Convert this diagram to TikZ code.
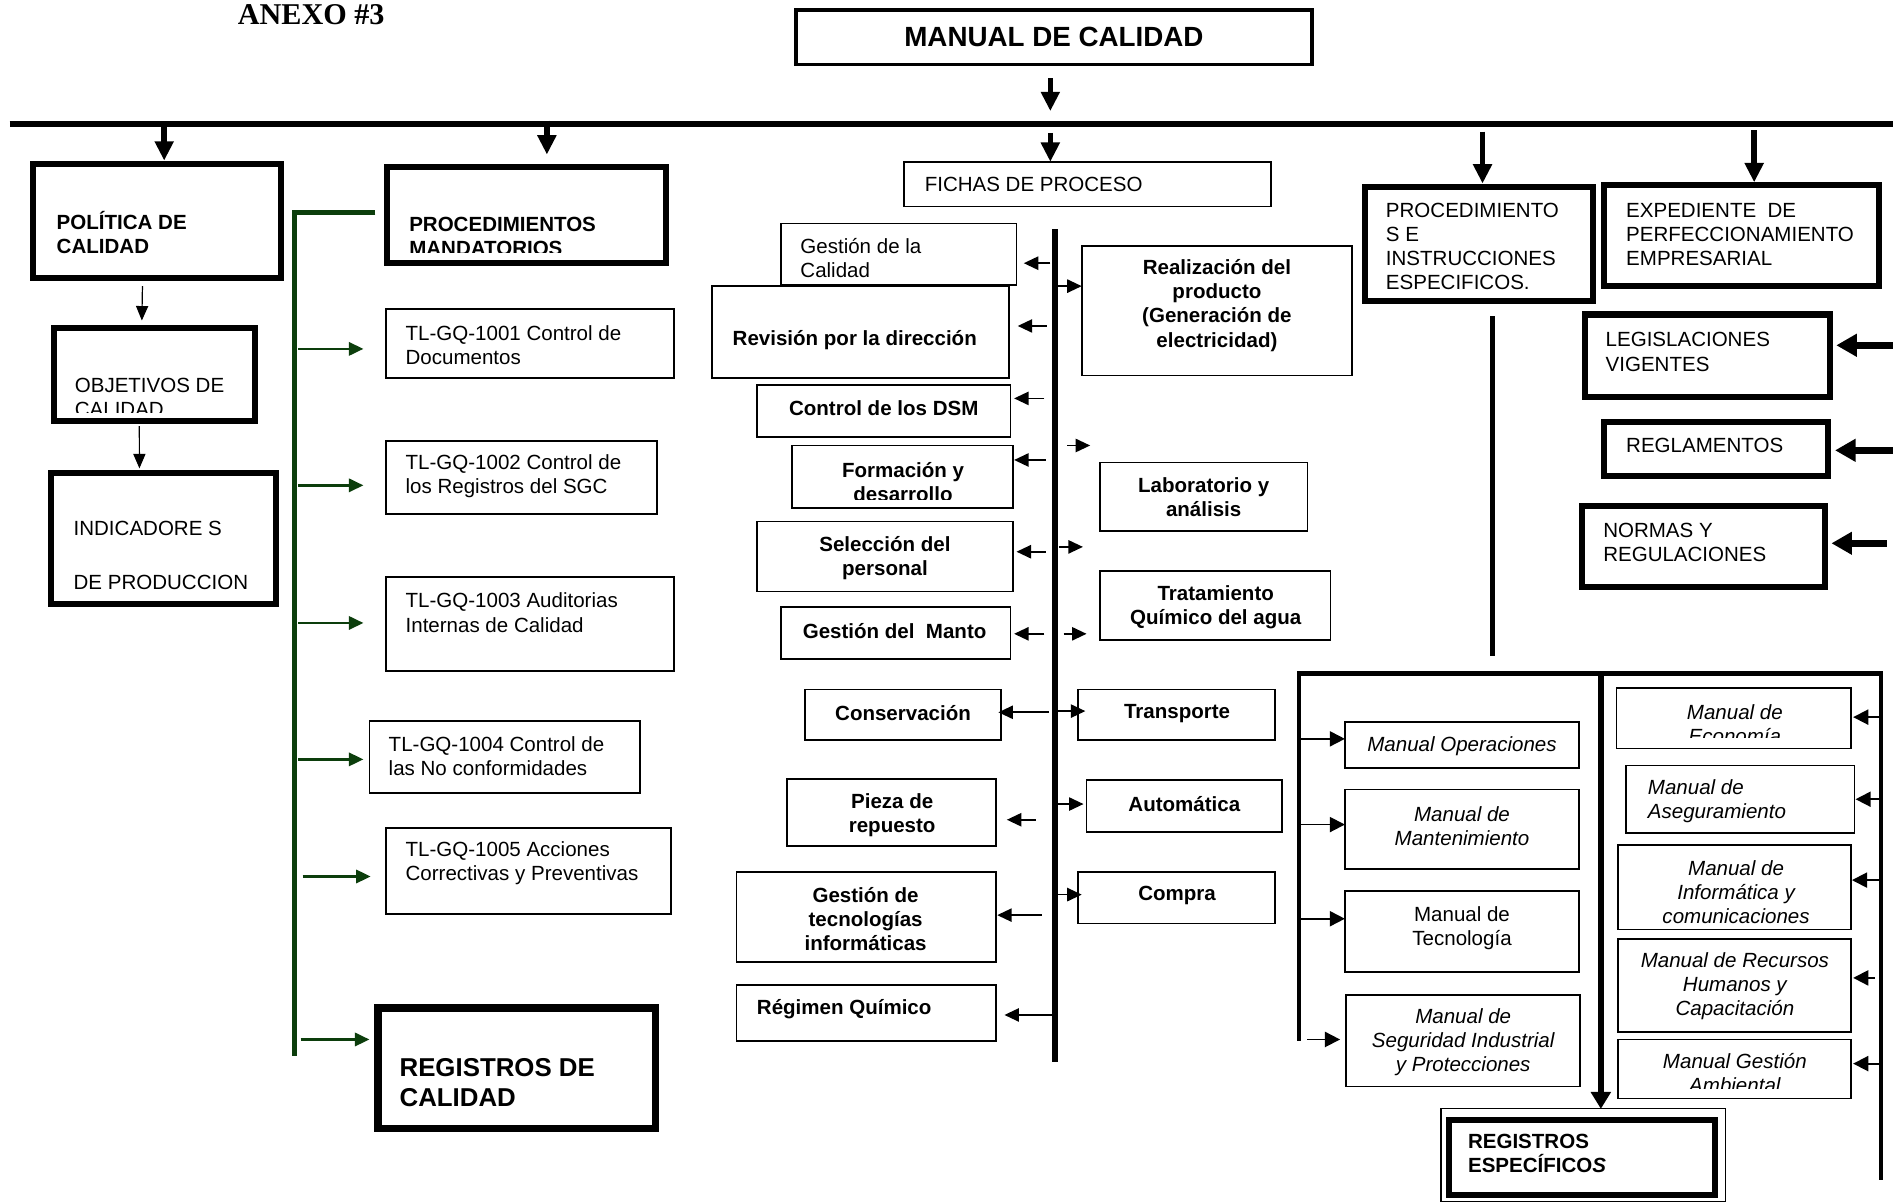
\documentclass[tikz,border=0pt]{standalone}
\usepackage{fontspec}
\setmainfont{Liberation Sans}
\newfontfamily\anexofont{Liberation Serif}
\usetikzlibrary{arrows.meta,calc}
\definecolor{dkgreen}{RGB}{12,62,12}
\newcommand\MkBox[6]{\node[#2, anchor=north west, minimum width={#5-#3}, minimum height={#6-#4}] (#1) at (#3,#4) {};}
\begin{document}
\begin{tikzpicture}[x=1pt,y=-1pt,
  every node/.style={inner sep=0pt,outer sep=0pt},
  thinbox/.style={draw,line width=1.4pt},
  thickbox/.style={draw,line width=5pt},
  tx/.style={font=\fontsize{17}{20}\selectfont, align=left},
  tbx/.style={font=\fontsize{17}{20}\selectfont\bfseries, align=center},
  tix/.style={font=\fontsize{17}{20}\selectfont\itshape, align=center},
  bigarr/.style={line width=4.5pt, -{Triangle[length=16pt,width=15pt]}},
  sarr/.style={line width=1pt, -{Triangle[length=12pt,width=10pt]}},
  tarr/.style={line width=1.4pt, -{Triangle[length=12pt,width=11pt]}},
  garr/.style={color=dkgreen, line width=2pt, -{Triangle[length=12pt,width=11pt]}},
  rarr/.style={line width=1.5pt, -{Triangle[length=12.5pt,width=12.5pt]}},
  legarr/.style={line width=6pt, -{Triangle[length=17pt,width=18pt]}},
  midarr/.style={line width=5pt, -{Triangle[length=14pt,width=16pt]}},
  rline/.style={line width=4pt, line join=miter}
]
\fill[white] (0,0) rectangle (1568,996);
\useasboundingbox (0,0) rectangle (1568,996);

% ---------- title ----------
\node[font={\anexofont\bfseries\fontsize{25}{28}\selectfont}, anchor=base west] (anexo) at (197,20) {ANEXO \#3};

% ---------- boxes ----------
\MkBox{man}{draw,line width=3pt}{659.5}{8.5}{1086.5}{53.5}
\MkBox{pol}{thickbox}{27.5}{135.5}{232.5}{230.5}
\MkBox{obj}{thickbox}{44.5}{271.5}{211.5}{348.5}
\MkBox{ind}{thickbox}{42.5}{391.5}{228.5}{500.5}
\MkBox{proc}{thickbox}{320.5}{138.5}{551.5}{217.5}
\MkBox{regc}{draw,line width=6pt}{313}{835}{543}{935}
\MkBox{t1}{thinbox}{320}{256}{558}{313}
\MkBox{t2}{thinbox}{320}{365}{544}{426}
\MkBox{t3}{thinbox}{320}{478}{558}{556}
\MkBox{t4}{thinbox}{306}{597}{530}{657}
\MkBox{t5}{thinbox}{320}{686}{556}{757}

\MkBox{fichas}{thinbox}{749}{134}{1053}{171}
\MkBox{gdc}{thinbox}{647}{185}{842}{236}
\MkBox{rev}{thinbox}{590}{237}{836}{313}
\MkBox{dsm}{thinbox}{627}{319}{837}{362}
\MkBox{for}{thinbox}{656}{369}{839}{421}
\MkBox{sel}{thinbox}{627}{432}{839}{490}
\MkBox{gman}{thinbox}{647}{503}{837}{546}
\MkBox{cons}{thinbox}{667}{571}{829}{613}
\MkBox{pieza}{thinbox}{652}{645}{825}{701}
\MkBox{gti}{thinbox}{610}{722}{825}{797}
\MkBox{rq}{thinbox}{610}{816}{825}{862}
\MkBox{real}{thinbox}{896}{204}{1120}{311}
\MkBox{lab}{thinbox}{911}{383}{1083}{440}
\MkBox{trat}{thinbox}{911}{473}{1102}{530}
\MkBox{trans}{thinbox}{893}{571}{1056}{613}
\MkBox{auto}{thinbox}{900}{646}{1062}{689}
\MkBox{comp}{thinbox}{893}{722}{1056}{765}

\MkBox{pie}{thickbox}{1130.5}{154.5}{1319.5}{249.5}
\MkBox{exp}{thickbox}{1328.5}{153.5}{1556.5}{236.5}
\MkBox{leg}{thickbox}{1312.5}{260.5}{1515.5}{328.5}
\MkBox{regl}{thickbox}{1328.5}{349.5}{1514.5}{394.5}
\MkBox{norm}{thickbox}{1310.5}{419.5}{1511.5}{486.5}

\MkBox{mop}{thinbox}{1114}{598}{1308}{636}
\MkBox{mmant}{thinbox}{1114}{654}{1308}{720}
\MkBox{mtec}{thinbox}{1114}{738}{1308}{805}
\MkBox{mseg}{thinbox}{1115}{824}{1309}{900}
\MkBox{meco}{thinbox}{1339}{570}{1533}{620}
\MkBox{mase}{thinbox}{1347}{634}{1536}{690}
\MkBox{minf}{thinbox}{1340}{700}{1533}{770}
\MkBox{mrh}{thinbox}{1340}{778}{1533}{855}
\MkBox{mga}{thinbox}{1340}{861}{1533}{910}
\MkBox{regeo}{draw,line width=1pt}{1193.5}{918.5}{1429.5}{995.5}
\MkBox{rege}{thickbox}{1200.5}{927.5}{1420.5}{989.5}

% ---------- texts ----------
\node[tbx, font=\fontsize{23}{26}\selectfont\bfseries] (manT) at (873,31) {MANUAL DE CALIDAD};
\node[tx, font=\fontsize{17}{20}\selectfont\bfseries, anchor=west] (polT) at (47,192.5) {POLÍTICA DE\\CALIDAD};
\begin{scope}
  \clip (47,275) rectangle (209,342);
  \node[tx, anchor=west] (objT) at (62,329) {OBJETIVOS DE\\CALIDAD};
\end{scope}
\node[tx, anchor=west] (indT) at (61,460) {INDICADORE S\\[25pt]DE PRODUCCION};
\begin{scope}
  \clip (325,144) rectangle (549,209);
  \node[tx, font=\fontsize{17}{20}\selectfont\bfseries, anchor=west] (procT) at (339,195.5) {PROCEDIMIENTOS\\MANDATORIOS};
\end{scope}
\node[tx, anchor=west] (t1T) at (336,286) {TL-GQ-1001 Control de\\Documentos};
\node[tx, anchor=west] (t2T) at (336,394.5) {TL-GQ-1002 Control de\\los Registros del SGC};
\node[tx, anchor=west] (t3T) at (336,507.5) {TL-GQ-1003 Auditorias\\Internas de Calidad};
\node[tx, anchor=west] (t4T) at (322,626) {TL-GQ-1004 Control de\\las No conformidades};
\node[tx, anchor=west] (t5T) at (336,715) {TL-GQ-1005 Acciones\\Correctivas y Preventivas};
\node[tx, font=\fontsize{21.4}{25}\selectfont\bfseries, anchor=west] (regcT) at (331,896.5) {REGISTROS DE\\CALIDAD};

\node[tx, anchor=west] (fichasT) at (766,153) {FICHAS DE PROCESO};
\node[tx, anchor=west] (gdcT) at (663,214) {Gestión de la\\Calidad};
\node[tbx] (revT) at (708,282) {Revisión por la dirección};
\node[tbx] (dsmT) at (732,338) {Control de los DSM};
\begin{scope}
  \clip (659,372) rectangle (836,414);
  \node[tbx] (forT) at (748,399) {Formación y\\desarrollo};
\end{scope}
\node[tbx] (selT) at (733,462) {Selección del\\personal};
\node[tbx] (gmanT) at (741,523) {Gestión del\ \ Manto};
\node[tbx] (consT) at (748,591) {Conservación};
\node[tbx] (piezaT) at (739,675) {Pieza de\\repuesto};
\node[tbx] (gtiT) at (717,761.5) {Gestión de\\tecnologías\\informáticas};
\node[tbx, anchor=west] (rqT) at (627,836) {Régimen Químico};
\node[tbx] (realT) at (1008,253) {Realización del\\producto\\(Generación de\\electricidad)};
\node[tbx] (labT) at (997,412) {Laboratorio y\\análisis};
\node[tbx] (tratT) at (1007,503) {Tratamiento\\Químico del agua};
\node[tbx] (transT) at (975,591) {Transporte};
\node[tbx] (autoT) at (981,666) {Automática};
\node[tbx] (compT) at (975,742) {Compra};

\node[tx, anchor=west] (pieT) at (1148,204) {PROCEDIMIENTO\\S E\\INSTRUCCIONES\\ESPECIFICOS.};
\node[tx, anchor=west] (expT) at (1347,194) {EXPEDIENTE\ \ DE\\PERFECCIONAMIENTO\\EMPRESARIAL};
\node[tx, anchor=west] (legT) at (1330,291.5) {LEGISLACIONES\\VIGENTES};
\node[tx, anchor=west] (reglT) at (1347,369) {REGLAMENTOS};
\node[tx, anchor=west] (normT) at (1328,449) {NORMAS Y\\REGULACIONES};

\node[tix] (mopT) at (1211,618) {Manual Operaciones};
\node[tix] (mmantT) at (1211,684) {Manual de\\Mantenimiento};
\node[tx, align=center] (mtecT) at (1211,768.5) {Manual de\\Tecnología};
\node[tix] (msegT) at (1212,863.5) {Manual de\\Seguridad Industrial\\y Protecciones};
\begin{scope}
  \clip (1341,572) rectangle (1531,611);
  \node[tix] (mecoT) at (1437,600) {Manual de\\Economía};
\end{scope}
\node[tix, align=left, anchor=west] (maseT) at (1365,663.5) {Manual de\\Aseguramiento};
\node[tix] (minfT) at (1438,739) {Manual de\\Informática y\\comunicaciones};
\node[tix] (mrhT) at (1437,817) {Manual de Recursos\\Humanos y\\Capacitación};
\begin{scope}
  \clip (1342,863) rectangle (1531,902);
  \node[tix] (mgaT) at (1437,889) {Manual Gestión\\Ambiental};
\end{scope}
\node[tx, font=\fontsize{17}{20}\selectfont\bfseries, anchor=west] (regeT) at (1216,955.5) {REGISTROS\\ESPECÍFICO\textit{S}};

% ---------- main bar and top arrows ----------
\coordinate (barL) at (8,103);
\coordinate (barR) at (1568,103);
\draw[line width=5pt] (barL) -- (barR);
\draw[bigarr] ([shift={(-3,11.5)}]man.south) -- ([shift={(-3,38.5)}]man.south);
\draw[bigarr] ($(barL -| pol.north)+(6,0)$) -- ($(pol.north)+(6,-2.5)$);
\draw[bigarr] ($(barL -| proc.north)+(17,-3)$) -- ($(proc.north)+(17,-10.5)$);
\draw[bigarr] ($(barL -| fichas.north)+(-31,7)$) -- ($(fichas.north)+(-31,0)$);
\draw[bigarr] ($(barL -| pie.north)+(3,6)$) -- ($(pie.north)+(3,-2.5)$);
\draw[bigarr] ($(barL -| exp.north)+(10.5,5)$) -- ($(exp.north)+(10.5,-2.5)$);

% ---------- left column arrows ----------
\draw[sarr] ($(pol.south)+(-12,6.5)$) -- ($(obj.north)+(-10.5,-6)$);
\draw[sarr] ($(obj.south)+(-12.6,4.5)$) -- ($(ind.north)+(-20,-3.5)$);

% ---------- green connector ----------
\coordinate (gTopR) at ($(proc.west)+(-9.5,-2)$);
\coordinate (gTop) at (244,176);
\coordinate (gBot) at (244,875);
\draw[dkgreen, line width=4.5pt] (gTopR) -- (gTop) -- (gBot);
\draw[garr] ($(gTop |- t1.west)+(3,4.5)$) -- ($(t1.west)+(-19,4.5)$);
\draw[garr] ($(gTop |- t2.west)+(3,6.5)$) -- ($(t2.west)+(-19,6.5)$);
\draw[garr] ($(gTop |- t3.west)+(3,-1)$) -- ($(t3.west)+(-19,-1)$);
\draw[garr] ($(gTop |- t4.west)+(3,2)$) -- ($(t4.west)+(-5,2)$);
\draw[garr] ($(gTop |- t5.west)+(6.7,4.5)$) -- ($(t5.west)+(-13,4.5)$);
\draw[garr] ($(gTop |- regc.west)+(5,-24)$) -- ($(regc.west)+(-7,-24)$);

% ---------- process spine ----------
\coordinate (spT) at (874,190);
\coordinate (spB) at (874,880);
\draw[line width=4.7pt] (spT) -- (spB);
\draw[tarr] ($(spT |- gdc.east)+(-4,7.5)$) -- ($(gdc.east)+(6,7.5)$);
\draw[tarr] ($(spT |- rev.east)+(-7,-5)$) -- ($(rev.east)+(7,-5)$);
\draw[tarr] ($(spT |- dsm.east)+(-9,-10.5)$) -- ($(dsm.east)+(3,-10.5)$);
\draw[tarr] ($(spT |- for.east)+(-8,-14)$) -- ($(for.east)+(1,-14)$);
\draw[tarr] ($(spT |- sel.east)+(-8,-4)$) -- ($(sel.east)+(3,-4)$);
\draw[tarr] ($(spT |- gman.east)+(-9,0.5)$) -- ($(gman.east)+(3,0.5)$);
\draw[tarr] ($(spT |- cons.east)+(-5,-2)$) -- ($(cons.east)+(-2,-2)$);
\draw[tarr] ($(spT |- pieza.east)+(-16,6)$) -- ($(pieza.east)+(9,6)$);
\draw[tarr] ($(spT |- gti.east)+(-11,-1.5)$) -- ($(gti.east)+(1,-1.5)$);
\draw[tarr] ($(spT |- rq.east)+(-3,1.7)$) -- ($(rq.east)+(7,1.7)$);

\draw[tarr] ($(spT |- real.west)+(2,-20.5)$) -- ($(real.west)+(0,-20.5)$);
\coordinate (freeA) at (903,369);
\draw[tarr] ($(spT |- freeA)+(10,0)$) -- (freeA);
\coordinate (freeB) at (897,453);
\draw[tarr] ($(spT |- freeB)+(3,0)$) -- (freeB);
\draw[tarr] ($(spT |- trat.west)+(7,23.5)$) -- ($(trat.west)+(-11,23.5)$);
\draw[tarr] ($(spT |- trans.west)+(2,-3)$) -- ($(trans.west)+(6,-3)$);
\draw[tarr] ($(spT |- auto.west)+(2,-1.5)$) -- ($(auto.west)+(-2.5,-1.5)$);
\draw[tarr] ($(spT |- comp.west)+(2,-2.5)$) -- ($(comp.west)+(3,-2.5)$);

% ---------- right upper ----------
\coordinate (pieEnd) at ($(pie.south)+(11,293.5)$);
\draw[line width=4pt] ($(pie.south)+(11,12.5)$) -- (pieEnd);
\draw[legarr] ($(leg.east)+(52.5,-8.5)$) -- ($(leg.east)+(5.5,-8.5)$);
\draw[legarr] ($(regl.east)+(53.5,1)$) -- ($(regl.east)+(5.5,1)$);
\draw[legarr] ($(norm.east)+(51.5,-3)$) -- ($(norm.east)+(5.5,-3)$);

% ---------- right lower structure ----------
\coordinate (rL) at (1076,558);
\coordinate (rM) at (1326,558);
\coordinate (rR) at (1558,558);
\coordinate (rLb) at (1076,862);
\coordinate (rRb) at (1558,977);
\draw[rline] (rLb) -- (rL) -- (rR) -- (rRb);
\draw[midarr] (rM) -- (rM |- regeo.north);
\draw[rarr] ($(rL |- mop.west)+(2,-5)$) -- ($(mop.west)+(0,-5)$);
\draw[rarr] ($(rL |- mmant.west)+(2,-4)$) -- ($(mmant.west)+(0,-4)$);
\draw[rarr] ($(rL |- mtec.west)+(2,-10.5)$) -- ($(mtec.west)+(0,-10.5)$);
\draw[rarr] ($(rL |- mseg.west)+(7,-1)$) -- ($(mseg.west)+(-5,-1)$);
\draw[rarr] ($(rR |- meco.east)+(0,-1)$) -- ($(meco.east)+(2,-1)$);
\draw[rarr] ($(rR |- mase.east)+(0,0)$) -- ($(mase.east)+(1,0)$);
\draw[rarr] ($(rR |- minf.east)+(0,-6)$) -- ($(minf.east)+(1,-6)$);
\draw[rarr] ($(rR |- mrh.east)+(-5,-6.5)$) -- ($(mrh.east)+(2,-6.5)$);
\draw[rarr] ($(rR |- mga.east)+(0,-4.5)$) -- ($(mga.east)+(2,-4.5)$);
\end{tikzpicture}
\end{document}
